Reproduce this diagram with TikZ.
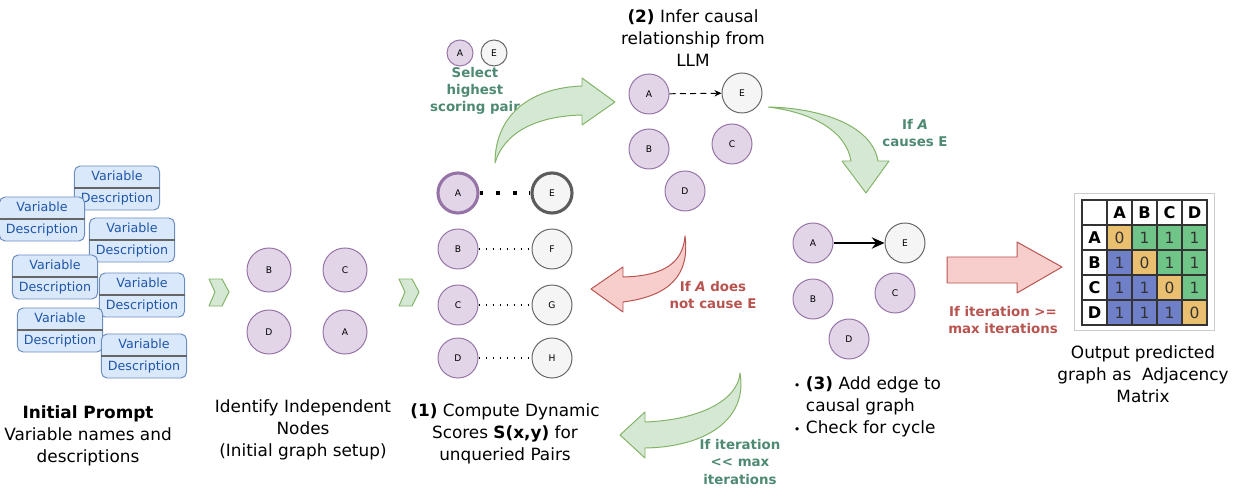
\documentclass[tikz,border=0pt]{standalone}
\usepackage{fontspec}
\setmainfont{DejaVu Sans}
\usetikzlibrary{arrows.meta}
\definecolor{vfill}{HTML}{DAE8FC}
\definecolor{vstroke}{HTML}{6C8EBF}
\definecolor{vtext}{HTML}{1F56A8}
\definecolor{pfill}{HTML}{E1D5E7}
\definecolor{pstroke}{HTML}{9673A6}
\definecolor{gfill}{HTML}{F5F5F5}
\definecolor{gstroke}{HTML}{666666}
\definecolor{afill}{HTML}{D5E8D4}
\definecolor{astroke}{HTML}{82B366}
\definecolor{rfill}{HTML}{F8CECC}
\definecolor{rstroke}{HTML}{B85450}
\definecolor{gtext}{HTML}{4E8A72}
\definecolor{rtext}{HTML}{B85450}
\definecolor{mzero}{HTML}{EAC070}
\definecolor{mgreen}{HTML}{6FC487}
\definecolor{mblue}{HTML}{6F80C8}
\definecolor{mgrid}{HTML}{333333}

\begin{document}
\begin{tikzpicture}[x=0.025cm,y=-0.025cm,
  pnode/.style={circle,draw=pstroke,fill=pfill,line width=0.7pt,minimum size=1cm,inner sep=0pt,font=\fontsize{6.5}{7}\selectfont},
  gnode/.style={pnode,draw=gstroke,fill=gfill},
  card/.style={draw=vstroke,fill=vfill,rounded corners=4pt,minimum width=2.125cm,minimum height=1.1cm,inner sep=0pt,align=center,text=vtext,font=\fontsize{9}{15.6}\selectfont,line width=0.7pt},
  lbl/.style={align=center,font=\fontsize{12}{15.6}\selectfont},
  gnote/.style={align=center,text=gtext,font=\bfseries\fontsize{9.5}{12.2}\selectfont},
  rnote/.style={gnote,text=rtext},
  garrow/.style={draw=astroke,fill=afill,line width=0.7pt,line join=round},
  rarrow/.style={draw=rstroke,fill=rfill,line width=0.7pt,line join=round},
  cell/.style={draw=mgrid,line width=1pt,minimum size=0.625cm,inner sep=0pt,font=\fontsize{11}{12}\selectfont,text=mgrid},
  hcell/.style={cell,fill=white,text=black,font=\bfseries\fontsize{11.5}{12}\selectfont}]
\useasboundingbox (0,0) rectangle (1244,492);

\foreach \cx/\cy [count=\k] in {117/188,42/219,132/240,55/277,142/295,60/330,144/356}{
  \node[card] (card\k) at (\cx,\cy) {Variable\\Description};
  \draw[draw=gstroke,line width=0.8pt] (card\k.west) -- (card\k.east);
}

\foreach \dx in {0,190}
  \draw[garrow] (209+\dx,279) -- (222+\dx,279) -- (229+\dx,292) -- (222+\dx,306) -- (209+\dx,306) -- (215+\dx,292) -- cycle;

\node[pnode,minimum size=1.1cm] (iB) at (269,270) {B};
\node[pnode,minimum size=1.1cm] (iC) at (345,270) {C};
\node[pnode,minimum size=1.1cm] (iD) at (269,332) {D};
\node[pnode,minimum size=1.1cm] (iA) at (345,332) {A};

\node[pnode,line width=2.2pt] (pA) at (458,193) {A};
\node[gnode,line width=2.2pt,draw=gstroke!90!black] (pE) at (552,193) {E};
\node[pnode] (pB) at (458,249) {B};
\node[gnode] (pF) at (552,249) {F};
\node[pnode] (pC) at (458,305) {C};
\node[gnode] (pG) at (552,305) {G};
\node[pnode] (pD) at (458,358) {D};
\node[gnode] (pH) at (552,358) {H};
\draw[line width=2.8pt,dash pattern=on 2.8pt off 9pt] (pA.east) -- (pE.west);
\draw[line width=1.1pt,dash pattern=on 1.1pt off 3.9pt] (pB.east) -- (pF.west);
\draw[line width=1.1pt,dash pattern=on 1.1pt off 3.9pt] (pC.east) -- (pG.west);
\draw[line width=1.1pt,dash pattern=on 1.1pt off 3.9pt] (pD.east) -- (pH.west);

\node[pnode,minimum size=0.65cm] (tA) at (460,53) {A};
\node[gnode,minimum size=0.65cm] (tE) at (494,53) {E};
\node[gnote] (sel) at (475,91) {Select\\highest\\scoring pair};

\draw[garrow] (495,163) .. controls (495,115) and (530,88) .. (582,86) -- (582,78) -- (615,102) -- (582,125) -- (582,115) .. controls (540,116) and (505,130) .. (495,163) -- cycle;

\node[lbl] (infer) at (693,38) {\textbf{(2)} Infer causal\\relationship from\\LLM};
\node[pnode] (qA) at (649,94) {A};
\node[gnode] (qE) at (742,93) {E};
\node[pnode] (qB) at (649,149) {B};
\node[pnode] (qC) at (732,144) {C};
\node[pnode] (qD) at (685,191) {D};
\draw[line width=0.7pt,dash pattern=on 4.3pt off 3pt,-{Stealth[length=5pt,width=4.5pt]}] (qA) -- (qE);

\draw[garrow] (768,107) .. controls (820,108) and (872,125) .. (878,161) -- (889,161) -- (866,193) -- (842,161) -- (851,161) .. controls (846,130) and (810,112) .. (768,107) -- cycle;
\node[gnote] (causes) at (915,133) {If \textit{A}\\causes E};

\draw[rarrow] (685,236) .. controls (683,262) and (665,276) .. (623,277) -- (623,267) -- (591,289) -- (623,312) -- (623,302) .. controls (670,296) and (690,275) .. (685,236) -- cycle;
\node[rnote] (notcause) at (713,295) {If \textit{A} does\\not cause E};

\draw[garrow] (740,373) .. controls (738,400) and (700,420) .. (645,422) -- (645,412) -- (620,435) -- (645,458) -- (645,448) .. controls (705,447) and (748,420) .. (740,373) -- cycle;
\node[gnote] (iterless) at (740,462) {If iteration\\<{}< max\\iterations};

\node[pnode] (gA) at (813,243) {A};
\node[gnode] (gE) at (905,243) {E};
\node[pnode] (gB) at (813,299) {B};
\node[pnode] (gC) at (895,293) {C};
\node[pnode] (gD) at (849,339) {D};
\draw[line width=1.5pt,-{Stealth[length=9pt,width=8pt]}] (gA) -- (gE);

\draw[rarrow] (947,257) -- (1017,257) -- (1017,242) -- (1062,267) -- (1017,293) -- (1017,283) -- (947,283) -- cycle;
\node[rnote] (itermax) at (1003,320) {If iteration >{}=\\max iterations};

\draw[draw=black!20,fill=white,line width=0.6pt] (1074,193) rectangle (1214,330);
\node[hcell] (m00) at (1094.5,212.5) {};
\foreach \r [count=\i] in {A,B,C,D}{
  \node[hcell] (m0\i) at (1094.5+25*\i,212.5) {\r};
  \node[hcell] (m\i0) at (1094.5,212.5+25*\i) {\r};
}
\foreach \i in {1,...,4}
  \foreach \j in {1,...,4}{
    \ifnum\i=\j\relax \def\cc{mzero}\def\cv{0}\else\ifnum\j>\i\relax \def\cc{mgreen}\else\def\cc{mblue}\fi\def\cv{1}\fi
    \node[cell,fill=\cc] (m\i\j) at (1094.5+25*\j,212.5+25*\i) {\cv};
  }

\node[lbl] (prompt) at (88,436) {\textbf{Initial Prompt}\\Variable names and\\descriptions};
\node[lbl] (indep) at (303,430) {Identify Independent\\Nodes\\(Initial graph setup)};
\node[lbl] (scores) at (505,434) {\textbf{(1)} Compute Dynamic\\Scores \textbf{S(x,y)} for\\unqueried Pairs};
\node[lbl,align=left,anchor=west] (addedge) at (789,407) {{\fontsize{8}{8}\selectfont\textbullet}\ \textbf{(3)} Add edge to\\\phantom{{\fontsize{8}{8}\selectfont\textbullet}\ }causal graph\\{\fontsize{8}{8}\selectfont\textbullet}\ Check for cycle};
\node[lbl] (output) at (1143,374) {Output predicted\\graph as\ \ Adjacency\\Matrix};
\end{tikzpicture}
\end{document}
